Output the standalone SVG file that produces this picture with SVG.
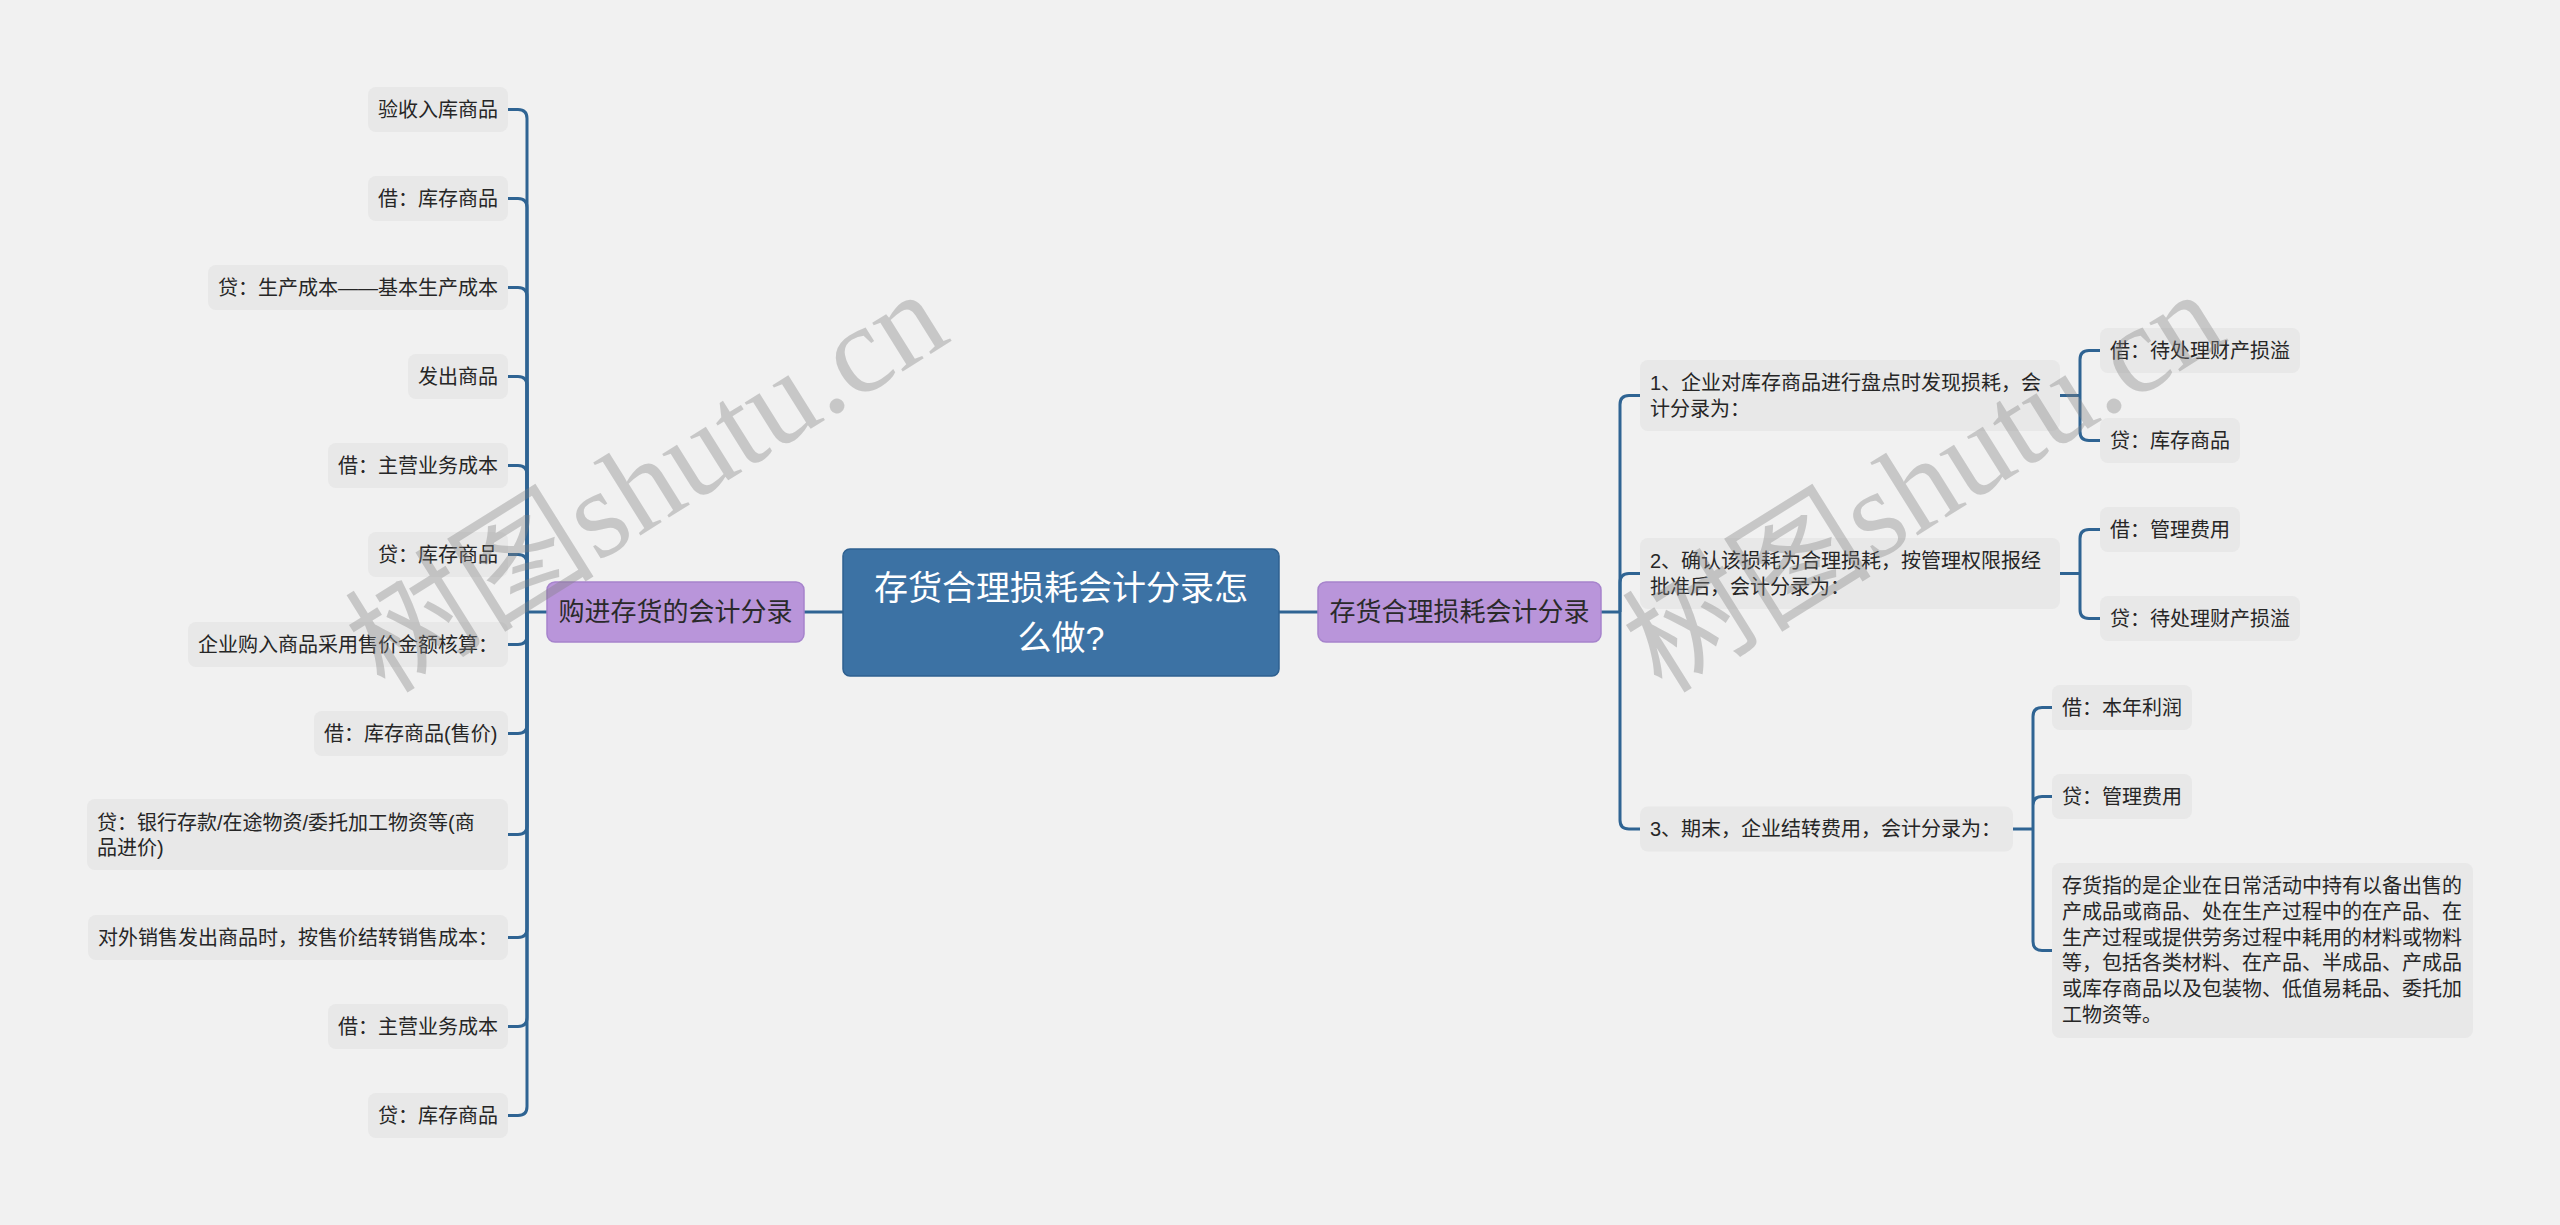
<svg xmlns="http://www.w3.org/2000/svg" width="2560" height="1225" viewBox="0 0 2560 1225">
<style>
.t{font-family:"Liberation Sans","Noto Sans CJK SC",sans-serif;font-size:20px;fill:#262626;dominant-baseline:central}
.leaf{fill:#e8e8e8}
.sub{fill:#b995da;stroke:#a683cc;stroke-width:1.5}
.st{font-family:"Liberation Sans","Noto Sans CJK SC",sans-serif;font-size:26px;fill:#2a2a2a;dominant-baseline:central;text-anchor:middle}
.root{fill:#3c72a4;stroke:#2e6090;stroke-width:1.5}
.rt{font-family:"Liberation Sans","Noto Sans CJK SC",sans-serif;font-size:34px;fill:#ffffff;dominant-baseline:central;text-anchor:middle}
.c{fill:none;stroke:#2f6493;stroke-width:3}
.wm{font-family:"Liberation Serif","Noto Sans CJK SC",serif;font-size:125px;fill:#808080;opacity:0.36}
</style>
<rect width="2560" height="1225" fill="#f1f1f1"/>
<g id="connectors">
<path class="c" d="M804,612 H843 M1279,612 H1318"/>
<path class="c" d="M547,612 H527"/>
<path class="c" d="M527,612 V118.5 Q527,109.5 518,109.5 H508"/>
<path class="c" d="M527,612 V207.5 Q527,198.5 518,198.5 H508"/>
<path class="c" d="M527,612 V296.5 Q527,287.5 518,287.5 H508"/>
<path class="c" d="M527,612 V385.5 Q527,376.5 518,376.5 H508"/>
<path class="c" d="M527,612 V474.5 Q527,465.5 518,465.5 H508"/>
<path class="c" d="M527,612 V563.5 Q527,554.5 518,554.5 H508"/>
<path class="c" d="M527,612 V635.5 Q527,644.5 518,644.5 H508"/>
<path class="c" d="M527,612 V724.5 Q527,733.5 518,733.5 H508"/>
<path class="c" d="M527,612 V825.5 Q527,834.5 518,834.5 H508"/>
<path class="c" d="M527,612 V928.5 Q527,937.5 518,937.5 H508"/>
<path class="c" d="M527,612 V1017.5 Q527,1026.5 518,1026.5 H508"/>
<path class="c" d="M527,612 V1106.5 Q527,1115.5 518,1115.5 H508"/>
<path class="c" d="M1601,612 H1620"/>
<path class="c" d="M1620,612 V404.5 Q1620,395.5 1629,395.5 H1640"/>
<path class="c" d="M1620,612 V582.5 Q1620,573.5 1629,573.5 H1640"/>
<path class="c" d="M1620,612 V820 Q1620,829 1629,829 H1640"/>
<path class="c" d="M2060,395.5 H2080 M2080,395.5 V359.5 Q2080,350.5 2089,350.5 H2100 M2080,395.5 V431.5 Q2080,440.5 2089,440.5 H2100"/>
<path class="c" d="M2060,573.5 H2080 M2080,573.5 V538.5 Q2080,529.5 2089,529.5 H2100 M2080,573.5 V609.5 Q2080,618.5 2089,618.5 H2100"/>
<path class="c" d="M2013,829 H2033 M2033,829 V716.5 Q2033,707.5 2042,707.5 H2052 M2033,829 V805.5 Q2033,796.5 2042,796.5 H2052 M2033,829 V941.5 Q2033,950.5 2042,950.5 H2052"/>
</g>
<g id="root"><rect class="root" x="843" y="549" width="436" height="127" rx="7"/><text class="rt" x="1061" y="587.5">存货合理损耗会计分录怎</text><text class="rt" x="1061" y="637.5">么做?</text></g>
<g id="sub-left"><rect class="sub" x="547" y="582" width="257" height="60" rx="8"/><text class="st" x="675.5" y="612">购进存货的会计分录</text></g>
<g id="sub-right"><rect class="sub" x="1318" y="582" width="283" height="60" rx="8"/><text class="st" x="1459.5" y="612">存货合理损耗会计分录</text></g>
<g id="l1"><rect class="leaf" x="368" y="87" width="140" height="45" rx="8"/><text class="t" x="378" y="109.5">验收入库商品</text></g>
<g id="l2"><rect class="leaf" x="368" y="176" width="140" height="45" rx="8"/><text class="t" x="378" y="198.5">借：库存商品</text></g>
<g id="l3"><rect class="leaf" x="208" y="265" width="300" height="45" rx="8"/><text class="t" x="218" y="287.5">贷：生产成本——基本生产成本</text></g>
<g id="l4"><rect class="leaf" x="408" y="354" width="100" height="45" rx="8"/><text class="t" x="418" y="376.5">发出商品</text></g>
<g id="l5"><rect class="leaf" x="328" y="443" width="180" height="45" rx="8"/><text class="t" x="338" y="465.5">借：主营业务成本</text></g>
<g id="l6"><rect class="leaf" x="368" y="532" width="140" height="45" rx="8"/><text class="t" x="378" y="554.5">贷：库存商品</text></g>
<g id="l7"><rect class="leaf" x="188" y="622" width="320" height="45" rx="8"/><text class="t" x="198" y="644.5">企业购入商品采用售价金额核算：</text></g>
<g id="l8"><rect class="leaf" x="314" y="711" width="194" height="45" rx="8"/><text class="t" x="324" y="733.5">借：库存商品(售价)</text></g>
<g id="l9"><rect class="leaf" x="87" y="799" width="421" height="71" rx="8"/><text class="t" x="97" y="822.5">贷：银行存款/在途物资/委托加工物资等(商</text><text class="t" x="97" y="847.5">品进价)</text></g>
<g id="l10"><rect class="leaf" x="88" y="915" width="420" height="45" rx="8"/><text class="t" x="98" y="937.5">对外销售发出商品时，按售价结转销售成本：</text></g>
<g id="l11"><rect class="leaf" x="328" y="1004" width="180" height="45" rx="8"/><text class="t" x="338" y="1026.5">借：主营业务成本</text></g>
<g id="l12"><rect class="leaf" x="368" y="1093" width="140" height="45" rx="8"/><text class="t" x="378" y="1115.5">贷：库存商品</text></g>
<g id="r1"><rect class="leaf" x="1640" y="360" width="420" height="71" rx="8"/><text class="t" x="1650" y="382.5">1、企业对库存商品进行盘点时发现损耗，会</text><text class="t" x="1650" y="408.5">计分录为：</text></g>
<g id="r2"><rect class="leaf" x="1640" y="538" width="420" height="71" rx="8"/><text class="t" x="1650" y="560.5">2、确认该损耗为合理损耗，按管理权限报经</text><text class="t" x="1650" y="586.5">批准后，会计分录为：</text></g>
<g id="r3"><rect class="leaf" x="1640" y="806.5" width="373" height="45" rx="8"/><text class="t" x="1650" y="829">3、期末，企业结转费用，会计分录为：</text></g>
<g id="r1a"><rect class="leaf" x="2100" y="328" width="200" height="45" rx="8"/><text class="t" x="2110" y="350.5">借：待处理财产损溢</text></g>
<g id="r1b"><rect class="leaf" x="2100" y="418" width="140" height="45" rx="8"/><text class="t" x="2110" y="440.5">贷：库存商品</text></g>
<g id="r2a"><rect class="leaf" x="2100" y="507" width="140" height="45" rx="8"/><text class="t" x="2110" y="529.5">借：管理费用</text></g>
<g id="r2b"><rect class="leaf" x="2100" y="596" width="200" height="45" rx="8"/><text class="t" x="2110" y="618.5">贷：待处理财产损溢</text></g>
<g id="r3a"><rect class="leaf" x="2052" y="685" width="140" height="45" rx="8"/><text class="t" x="2062" y="707.5">借：本年利润</text></g>
<g id="r3b"><rect class="leaf" x="2052" y="774" width="140" height="45" rx="8"/><text class="t" x="2062" y="796.5">贷：管理费用</text></g>
<g id="r3c"><rect class="leaf" x="2052" y="863" width="421" height="175" rx="8"/>
<text class="t" x="2062" y="886">存货指的是企业在日常活动中持有以备出售的</text>
<text class="t" x="2062" y="911.8">产成品或商品、处在生产过程中的在产品、在</text>
<text class="t" x="2062" y="937.6">生产过程或提供劳务过程中耗用的材料或物料</text>
<text class="t" x="2062" y="963.4">等，包括各类材料、在产品、半成品、产成品</text>
<text class="t" x="2062" y="989.2">或库存商品以及包装物、低值易耗品、委托加</text>
<text class="t" x="2062" y="1015">工物资等。</text></g>
<g id="watermark">
<text class="wm" transform="translate(385,695) rotate(-32)">树图shutu.cn</text>
<text class="wm" transform="translate(1662,695) rotate(-32)">树图shutu.cn</text>
</g>
</svg>
